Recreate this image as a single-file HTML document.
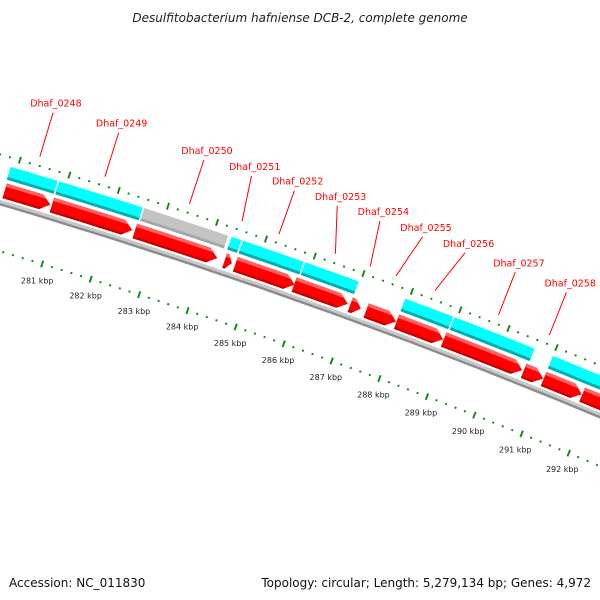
<!DOCTYPE html>
<html><head><meta charset="utf-8"><style>
html,body{margin:0;padding:0;background:#fff;}
svg{display:block;}
text{font-family:"DejaVu Sans","Liberation Sans",sans-serif;}
</style></head><body>
<svg id="chart" width="600" height="600" viewBox="0 0 600 600" xmlns="http://www.w3.org/2000/svg">
<text x="300" y="22" text-anchor="middle" font-size="12" font-style="italic" fill="#222">Desulfitobacterium hafniense DCB-2, complete genome</text>
<text x="9" y="587" font-size="12" fill="#111">Accession: NC_011830</text>
<text x="591" y="587" text-anchor="end" font-size="12" fill="#111">Topology: circular; Length: 5,279,134 bp; Genes: 4,972</text>
<defs id="defs"></defs>
<g id="plot"></g>
</svg>
<script>
// ---- data (kbp) ----
const tickLabels = [281,282,283,284,285,286,287,288,289,290,291,292];
const geneStarts = [279.87,280.83,282.52,284.36,284.58,285.79,286.95,287.28,287.91,288.89,290.56,290.98,291.79];
const geneEnds   = [280.83,282.50,284.24,284.54,285.83,286.93,287.20,287.93,288.91,290.56,291.00,291.81,293.50];
const geneNames  = ["Dhaf_0248","Dhaf_0249","Dhaf_0250","Dhaf_0251","Dhaf_0252","Dhaf_0253","Dhaf_0254","Dhaf_0255","Dhaf_0256","Dhaf_0257","Dhaf_0258","",""];
const cdsStarts  = [279.85,280.83,282.56,284.34,284.57,285.85,287.91,288.93,290.98];
const cdsEnds    = [280.83,282.56,284.30,284.57,285.85,286.98,288.93,290.63,293.50];
const cdsPseudo  = [false,false,true,false,false,false,false,false,false];

// ---- geometry ----
const CX=-1681, CY=5889, A0=70.49, REF=286, DEG_PER_KBP=0.4956;
const NS="http://www.w3.org/2000/svg";
const plot=document.getElementById('plot');
const defs=document.getElementById('defs');
function ang(k){return (A0-(k-REF)*DEG_PER_KBP)*Math.PI/180;}
function pt(k,r){const a=ang(k);return [CX+r*Math.cos(a), CY-r*Math.sin(a)];}
function f(p){return p[0].toFixed(2)+','+p[1].toFixed(2);}
function bandPath(k1,k2,r1,r2){
  const n=10;let s=[];
  for(let i=0;i<=n;i++)s.push(f(pt(k1+(k2-k1)*i/n,r2)));
  for(let i=n;i>=0;i--)s.push(f(pt(k1+(k2-k1)*i/n,r1)));
  return 'M'+s.join('L')+'Z';
}
function arrowPath(k1,k2,r1,r2){
  const len=k2-k1, head=Math.min(0.19,len*0.7), kb=k2-head, n=8;let s=[];
  for(let i=0;i<=n;i++)s.push(f(pt(k1+(kb-k1)*i/n,r2)));
  s.push(f(pt(k2,(r1+r2)/2)));
  for(let i=n;i>=0;i--)s.push(f(pt(k1+(kb-k1)*i/n,r1)));
  return 'M'+s.join('L')+'Z';
}
function mk(tag,attrs,parent){const e=document.createElementNS(NS,tag);for(const k in attrs)e.setAttribute(k,attrs[k]);(parent||plot).appendChild(e);return e;}

// backbone
let bb=mk('path',{d:bandPath(279,294.5,5929.5,5932.5),fill:'#c8c8c8'});


let bb2=mk('path',{d:bandPath(279,294.5,5927,5929.5),fill:'#8c8c8c'});



// tick rows
function tickRow(r,name){
  for(let i=Math.round(279*5);i<=Math.round(294.5*5);i++){
    const k=i/5, major=(i%5===0);
    const h=major?3.5:1;
    const p1=pt(k,r-h), p2=pt(k,r+h);
    const t=mk('line',{x1:p1[0],y1:p1[1],x2:p2[0],y2:p2[1],stroke:'#1a8a1a','stroke-width':2});
    
    
  }
}
tickRow(5883,'inner');
tickRow(5976,'outer');
tickLabels.forEach(k=>{
  const p=pt(k,5866);
  const t=mk('text',{x:p[0],y:p[1]+3,'text-anchor':'middle','font-size':'8',fill:'#222'});
  t.textContent=k+' kbp';
  
  
});

// CDS row
const G=0.015;
cdsStarts.forEach((s,i)=>{
  const e=cdsEnds[i], a=s+G, b=e-G;
  const main=cdsPseudo[i]?'#c4c4c4':'#00ffff', dark=cdsPseudo[i]?'#a6a6a6':'#00b0b0';
  const g=mk('g',{});
  
  
  mk('path',{d:bandPath(a,b,5956.5,5967),fill:main},g);
  mk('path',{d:bandPath(a,b,5953.5,5956.5),fill:dark},g);
});

// gene row (arrows)
geneStarts.forEach((s,i)=>{
  const e=geneEnds[i], a=s+G, b=e-G;
  const id='gclip'+i;
  const cp=mk('clipPath',{id:id},defs);
  mk('path',{d:arrowPath(a,b,5934.5,5950)},cp);
  const g=mk('g',{'clip-path':'url(#'+id+')'});
  
  
  mk('path',{d:bandPath(a-0.1,b+0.1,5934.5,5950),fill:'#ff0000'},g);
  mk('path',{d:bandPath(a-0.1,b+0.1,5946.5,5950),fill:'#ff6262'},g);
  mk('path',{d:bandPath(a-0.1,b+0.1,5934.5,5937),fill:'#c80000'},g);
});

// labels with simple collision spreading
const labIdx=[];geneNames.forEach((n,i)=>{if(n)labIdx.push(i);});
const desired=labIdx.map(i=>(geneStarts[i]+geneEnds[i])/2);
const MINSEP=0.87;
let clusters=desired.map((d,j)=>({items:[j],center:d}));
let changed=true;
function pos(c,m){return c.center+(m-(c.items.length-1)/2)*MINSEP;}
while(changed){
  changed=false;
  for(let c=0;c<clusters.length-1;c++){
    const A=clusters[c],B=clusters[c+1];
    if(pos(B,0)-pos(A,A.items.length-1)<MINSEP-1e-9){
      const items=A.items.concat(B.items);
      const center=items.reduce((s,j)=>s+desired[j],0)/items.length;
      clusters.splice(c,2,{items:items,center:center});
      changed=true;break;
    }
  }
}
const labelK=[];
clusters.forEach(c=>c.items.forEach((j,m)=>{labelK[j]=pos(c,m);}));
labIdx.forEach((i,j)=>{
  const p1=pt(desired[j],5985), p2=pt(labelK[j],6031), pt3=pt(labelK[j],6041);
  const l=mk('line',{x1:p1[0],y1:p1[1],x2:p2[0],y2:p2[1],stroke:'#ff0000','stroke-width':1});
  
  
  const t=mk('text',{x:pt3[0],y:pt3[1]+3.5,'text-anchor':'middle','font-size':'9.5',fill:'#ff0000'});
  t.textContent=geneNames[i];
  
  
});
</script>
</body></html>
